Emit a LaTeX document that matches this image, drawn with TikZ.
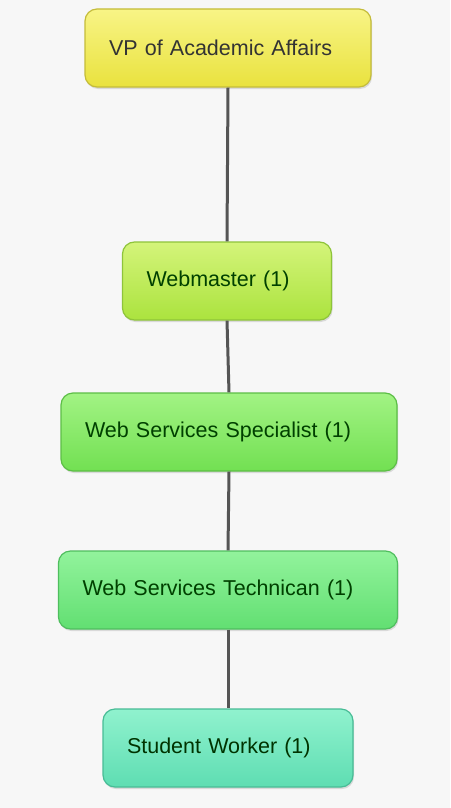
\documentclass[tikz,border=0pt]{standalone}
\usepackage{fontspec}
\setmainfont{Liberation Sans}
\usetikzlibrary{shadows}
\definecolor{bgpaper}{HTML}{F7F7F7}
\definecolor{vptop}{HTML}{F8F486}
\definecolor{vpbot}{HTML}{E9E23E}
\definecolor{vpline}{HTML}{C4BC3A}
\definecolor{wmtop}{HTML}{D4F47A}
\definecolor{wmbot}{HTML}{ABE33E}
\definecolor{wmline}{HTML}{8EC43A}
\definecolor{sptop}{HTML}{A2F384}
\definecolor{spbot}{HTML}{72E052}
\definecolor{spline}{HTML}{5CBE46}
\definecolor{tctop}{HTML}{92F39C}
\definecolor{tcbot}{HTML}{62DF72}
\definecolor{tcline}{HTML}{4FBE5E}
\definecolor{swtop}{HTML}{90F2CE}
\definecolor{swbot}{HTML}{5EDDB2}
\definecolor{swline}{HTML}{48BC96}
\definecolor{linkgray}{HTML}{555555}

\begin{document}
\begin{tikzpicture}[x=1pt,y=-1pt,
    box/.style={draw, line width=1.2pt, rounded corners=12pt,
        inner xsep=24pt, minimum height=78pt, align=left,
        font=\fontsize{21.5}{26}\selectfont,
        drop shadow={opacity=0.25, shadow xshift=1pt, shadow yshift=-2pt}},
    link/.style={draw=linkgray, line width=3pt}]
    % paper
    \fill[bgpaper](0,0)rectangle(450,808);

    % boxes
    \node[box, draw=vpline, top color=vptop, bottom color=vpbot, text=black!80, text width=238pt]
        (vp) at (228,48) {VP of Academic Affairs};
    \node[box, draw=wmline, top color=wmtop, bottom color=wmbot, text=green!25!black, text width=161pt]
        (webmaster) at (227,281) {Webmaster (1)};
    \node[box, draw=spline, top color=sptop, bottom color=spbot, text=green!25!black, text width=288pt]
        (specialist) at (229,432) {Web Services Specialist (1)};
    \node[box, draw=tcline, top color=tctop, bottom color=tcbot, text=green!25!black, text width=291pt]
        (technican) at (228,590) {Web Services Technican (1)};
    \node[box, draw=swline, top color=swtop, bottom color=swbot, text=green!20!black, text width=202pt]
        (student) at (228,748) {Student Worker (1)};

    % links
    \draw[link](vp.south)--(webmaster.north);
    \draw[link](webmaster.south)--(specialist.north);
    \draw[link](specialist.south)--(technican.north);
    \draw[link](technican.south)--(student.north);
\end{tikzpicture}
\end{document}
